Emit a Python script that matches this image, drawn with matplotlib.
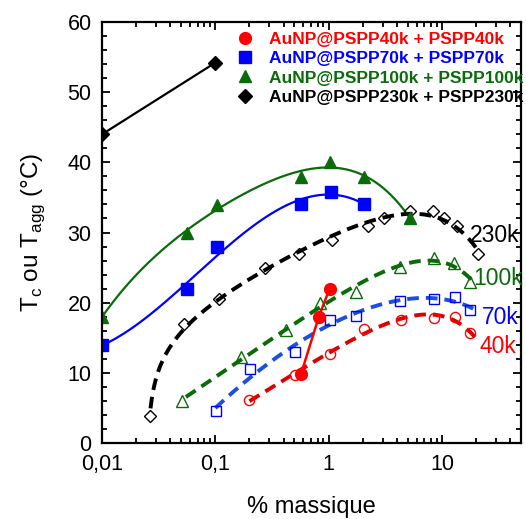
import numpy as np
import matplotlib
matplotlib.use('Agg')
import matplotlib.pyplot as plt
from matplotlib.lines import Line2D
from matplotlib.ticker import FixedLocator, LogLocator, MultipleLocator, NullFormatter

plt.rcParams['font.family'] = ['Liberation Sans', 'DejaVu Sans']
plt.rcParams['mathtext.fontset'] = 'custom'
plt.rcParams['mathtext.rm'] = 'Liberation Sans'

# AuNP@PSPP + PSPP (symboles pleins)
x_40_full = [0.57, 0.82, 1.02]
y_40_full = [9.8, 18.0, 22.0]
x_70_full = [0.01, 0.056, 0.104, 0.57, 1.04, 2.07]
y_70_full = [14.0, 21.9, 27.9, 34.0, 35.8, 34.0]
x_100_full = [0.01, 0.056, 0.103, 0.57, 1.02, 2.07, 5.25]
y_100_full = [18.0, 29.9, 33.9, 37.9, 40.1, 37.9, 32.0]
x_230_full = [0.01, 0.1]
y_230_full = [44.0, 54.2]

# PSPP seul (symboles vides)
x_40_open = [0.2, 0.51, 1.02, 2.07, 4.36, 8.6, 13.1, 17.7]
y_40_open = [6.1, 9.7, 12.7, 16.3, 17.5, 17.8, 17.9, 15.7]
x_70_open = [0.102, 0.204, 0.51, 1.02, 1.73, 4.28, 8.6, 13.1, 17.7]
y_70_open = [4.6, 10.5, 13.0, 17.6, 18.1, 20.3, 20.5, 20.75, 19.0]
x_100_open = [0.051, 0.17, 0.424, 0.834, 1.73, 4.28, 8.6, 12.9, 17.7]
y_100_open = [6.0, 12.3, 16.1, 19.9, 21.55, 25.1, 26.3, 25.7, 23.0]
x_230_open = [0.0265, 0.053, 0.108, 0.273, 0.548, 1.08, 2.22, 3.11, 5.25, 8.3, 10.4, 13.5, 20.9]
y_230_open = [3.9, 16.95, 20.5, 24.9, 26.9, 29.0, 30.9, 32.0, 33.0, 33.0, 32.0, 30.95, 26.9]

legend_labels = ['AuNP@PSPP40k + PSPP40k', 'AuNP@PSPP70k + PSPP70k',
                 'AuNP@PSPP100k + PSPP100k', 'AuNP@PSPP230k + PSPP230k']
curve_labels = ['40k', '70k', '100k', '230k']

red = '#ff0000'
red_d = '#dd0000'
blue = '#0000ff'
blue_d = '#1a4fe0'
green = '#0b6b0b'
black = '#000000'


def fit_dashed(x, y, x_start, x_end, shift=0.0):
    # moindres carrés : y = a + b*u + c*u^2 + d*x, u = log10(x - shift)
    x = np.array(x)
    u = np.log10(x - shift)
    A = np.column_stack([np.ones_like(u), u, u ** 2, x])
    coef = np.linalg.lstsq(A, np.array(y), rcond=None)[0]
    xs = np.logspace(np.log10(x_start), np.log10(x_end), 400)
    us = np.log10(xs - shift)
    return xs, coef[0] + coef[1] * us + coef[2] * us ** 2 + coef[3] * xs


def fit_solid(x, y, x_start, x_end, deg=3):
    p = np.polyfit(np.log10(x), y, deg)
    xs = np.logspace(np.log10(x_start), np.log10(x_end), 300)
    return xs, np.polyval(p, np.log10(xs))


fig = plt.figure(figsize=(5.26, 5.19), dpi=100)
ax = fig.add_axes([0.194, 0.1464, 0.7966, 0.8112])

dash = (3.0, 1.8)

# courbes en pointillés (PSPP seul)
xs, ys = fit_dashed(x_230_open, y_230_open, 0.0268, 20.5, shift=0.025)
ax.plot(xs, ys, color=black, lw=2.8, dashes=dash)
xs, ys = fit_dashed(x_100_open, y_100_open, 0.055, 18.5)
ax.plot(xs, ys, color=green, lw=2.8, dashes=dash)
xs, ys = fit_dashed(x_70_open, y_70_open, 0.1, 21)
ax.plot(xs, ys, color=blue_d, lw=2.8, dashes=dash)
xs, ys = fit_dashed(x_40_open, y_40_open, 0.2, 21)
ax.plot(xs, ys, color=red_d, lw=2.8, dashes=dash)

# courbes pleines
xs, ys = fit_solid(x_100_full, y_100_full, 0.01, 5.3, deg=4)
ax.plot(xs, ys, color=green, lw=1.6)
xs, ys = fit_solid(x_70_full, y_70_full, 0.01, 2.0, deg=3)
ax.plot(xs, ys, color=blue, lw=1.6)
ax.plot(x_40_full, y_40_full, color=red, lw=1.8)
ax.plot(x_230_full, y_230_full, color=black, lw=1.6)

# symboles vides
ax.plot(x_40_open, y_40_open, 'o', ms=7.3, mfc='none', mec=red, mew=1.0)
ax.plot(x_70_open, y_70_open, 's', ms=7.5, mfc='none', mec=blue, mew=1.0)
ax.plot(x_100_open, y_100_open, '^', ms=8.5, mfc='none', mec=green, mew=1.0)
ax.plot(x_230_open, y_230_open, 'D', ms=6.5, mfc='none', mec=black, mew=1.0)

# symboles pleins
ax.plot(x_40_full, y_40_full, 'o', ms=8.5, color=red)
ax.plot(x_70_full, y_70_full, 's', ms=8.5, color=blue)
ax.plot(x_100_full, y_100_full, '^', ms=9, color=green)
ax.plot(x_230_full, y_230_full, 'D', ms=7.5, color=black)

# étiquettes à droite
ax.text(17.5, 29.6, curve_labels[3], color=black, fontsize=16.5, va='center', ha='left')
ax.text(19.0, 23.5, curve_labels[2], color=green, fontsize=16.5, va='center', ha='left')
ax.text(22.5, 17.9, curve_labels[1], color=blue, fontsize=16.5, va='center', ha='left')
ax.text(21.5, 13.7, curve_labels[0], color=red, fontsize=16.5, va='center', ha='left')

handles = [Line2D([], [], ls='none', marker='o', ms=8.5, color=red),
           Line2D([], [], ls='none', marker='s', ms=8.5, color=blue),
           Line2D([], [], ls='none', marker='^', ms=9, color=green),
           Line2D([], [], ls='none', marker='D', ms=7.5, color=black)]
leg = ax.legend(handles, legend_labels, loc='upper left', bbox_to_anchor=(0.32, 0.976),
                frameon=False, prop={'weight': 'bold', 'size': 12.5},
                handlelength=1.0, handletextpad=0.9, labelspacing=0.23,
                borderpad=0, borderaxespad=0,
                labelcolor=[red, blue, green, black])

ax.set_xscale('log')
ax.set_xlim(0.01, 50)
ax.set_ylim(0, 60)
ax.xaxis.set_major_locator(FixedLocator([0.01, 0.1, 1, 10]))
ax.set_xticklabels(['0,01', '0,1', '1', '10'])
ax.xaxis.set_minor_locator(LogLocator(base=10, subs=np.arange(2, 10), numticks=20))
ax.xaxis.set_minor_formatter(NullFormatter())
ax.yaxis.set_major_locator(MultipleLocator(10))
ax.yaxis.set_minor_locator(MultipleLocator(2))

ax.tick_params(which='both', direction='in', top=True, right=True, width=1.3,
               labelsize=15.5)
ax.tick_params(which='major', length=6)
ax.tick_params(which='minor', length=3.3)
ax.tick_params(axis='x', pad=8)
ax.tick_params(axis='y', pad=7.5)
for s in ax.spines.values():
    s.set_linewidth(1.6)

ax.set_xlabel('% massique', fontsize=17, labelpad=15)
ax.set_ylabel('T$_\\mathregular{c}$ ou T$_\\mathregular{agg}$ (°C)', fontsize=17.5, labelpad=15)

fig.savefig('out.png', dpi=100)
